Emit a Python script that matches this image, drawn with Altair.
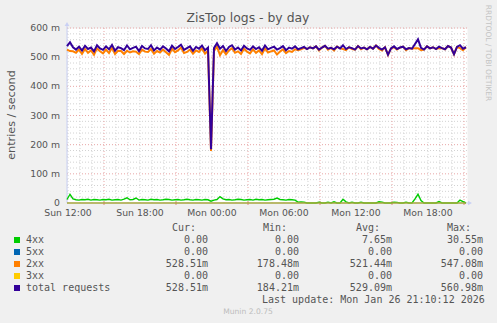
import altair as alt
import pandas as pd

# ---------------- texts ----------------
TITLE = "ZisTop logs - by day"
Y_TITLE = "entries / second"
SIDE_TEXT = "RRDTOOL / TOBI OETIKER"
FOOTER = "Munin 2.0.75"
LAST_UPDATE = "Last update: Mon Jan 26 21:10:12 2026"

# x axis: hours relative to Sun 12:00
X_TICK_HOURS = [0, 6, 12, 18, 24, 30]
X_TICK_LABELS = ["Sun 12:00", "Sun 18:00", "Mon 00:00", "Mon 06:00", "Mon 12:00", "Mon 18:00"]
Y_TICKS = [0, 100, 200, 300, 400, 500, 600]
Y_TICK_LABELS = ["0", "100 m", "200 m", "300 m", "400 m", "500 m", "600 m"]

# samples every 15 minutes, first one at Sun 11:55 (values in milli-entries/s)
START_H = -1 / 12
STEP_H = 0.25

TOTAL = [
    538, 551, 534, 526, 536, 523, 539, 528, 533, 520,
    541, 530, 525, 537, 527, 542, 522, 534, 531, 524,
    540, 527, 532, 536, 521, 538, 530, 528, 541, 523,
    533, 526, 537, 530, 520, 539, 528, 535, 543, 525,
    531, 537, 522, 535, 529, 540, 524, 533, 184, 531,
    548, 529, 538, 521, 535, 541, 526, 533, 523, 539,
    530, 525, 537, 528, 534, 522, 540, 527, 532, 536,
    526, 531, 538, 524, 533, 529, 537, 527, 531, 535,
    528, 534, 530, 537, 526, 533, 539, 529, 532, 527,
    536, 530, 541, 528, 534, 531, 526, 538, 530, 533,
    527, 535, 529, 540, 532, 526, 534, 508, 530, 537,
    528, 533, 536, 527, 531, 529, 545, 561, 532, 526,
    537, 530, 534, 528, 536, 531, 527, 538, 533, 510,
    535, 541, 529, 534,
]
S4XX = [
    12, 30, 14, 11, 10, 12, 11, 13, 10, 12,
    11, 10, 12, 11, 13, 10, 11, 12, 10, 13,
    18, 11, 12, 17, 10, 12, 11, 10, 13, 11,
    12, 10, 11, 13, 12, 10, 11, 12, 10, 11,
    13, 11, 10, 12, 11, 10, 12, 11, 6, 10,
    12, 22, 14, 11, 12, 10, 11, 13, 12, 10,
    11, 12, 10, 13, 11, 12, 10, 11, 12, 13,
    17, 12, 11, 10, 12, 11, 10, 3, 4, 3,
    0, 0, 0, 0, 3, 0, 0, 3, 0, 4,
    0, 0, 13, 4, 0, 3, 0, 0, 3, 0,
    0, 0, 0, 0, 4, 3, 0, 0, 0, 3,
    2, 0, 0, 3, 0, 0, 14, 30, 8, 0,
    0, 0, 0, 0, 5, 0, 0, 0, 0, 0,
    0, 10, 5, 0,
]
S2XX = [
    526, 521, 520, 515, 526, 511, 528, 515, 523, 508,
    530, 520, 513, 526, 514, 532, 511, 522, 521, 511,
    522, 516, 520, 519, 511, 526, 519, 518, 528, 512,
    521, 516, 526, 517, 508, 529, 517, 523, 533, 514,
    518, 526, 512, 523, 518, 530, 512, 522, 178, 521,
    536, 507, 524, 510, 523, 531, 515, 520, 511, 529,
    519, 513, 527, 515, 523, 510, 530, 516, 520, 523,
    509, 519, 527, 514, 521, 518, 527, 524, 527, 532,
    528, 534, 530, 537, 523, 533, 539, 526, 532, 523,
    536, 530, 528, 524, 534, 528, 526, 538, 527, 533,
    527, 535, 529, 540, 528, 523, 534, 508, 530, 534,
    526, 533, 536, 524, 531, 529, 531, 531, 524, 526,
    537, 530, 534, 528, 531, 531, 527, 538, 533, 510,
    535, 531, 524, 534,
]
S5XX = [0] * len(TOTAL)
S3XX = [0] * len(TOTAL)

# legend table
SERIES_NAMES = ["4xx", "5xx", "2xx", "3xx", "total requests"]
SERIES_COLORS = ["#00CC00", "#0066B3", "#FF8000", "#FFCC00", "#330099"]
CUR = ["0.00", "0.00", "528.51m", "0.00", "528.51m"]
MIN = ["0.00", "0.00", "178.48m", "0.00", "184.21m"]
AVG = ["7.65m", "0.00", "521.44m", "0.00", "529.09m"]
MAX = ["30.55m", "0.00", "547.08m", "0.00", "560.98m"]
HEADERS = ["Cur:", "Min:", "Avg:", "Max:"]

# ---------------- layout ----------------
W, H = 400, 175
PAD_L, PAD_T = 67, 28
TXT = "#555555"
AXIS_C = "#c9d0f4"
GRID_MINOR = "#d2d2d2"
GRID_MAJOR = "#e8a6a6"
SANS = "DejaVu Sans"
MONO = "DejaVu Sans Mono"

xs = alt.Scale(domain=[START_H, START_H + W / 12], nice=False, zero=False)
ys = alt.Scale(domain=[0, 600], nice=False)

hours = [START_H + STEP_H * i for i in range(len(TOTAL))]
df = pd.DataFrame({"h": hours, "s4": S4XX, "s5": S5XX, "s2": S2XX, "s3": S3XX, "tot": TOTAL})

y_minor = [v for v in range(0, 601, 20) if v % 100]
y_major = [v for v in Y_TICKS if v > 0]
x_major = [3, 9, 15, 21, 27, 33]
x_minor = [h for h in range(0, 34) if h not in x_major]

one = pd.DataFrame({"k": [0]})


def hrule(vals, color):
    return alt.Chart(pd.DataFrame({"v": vals})).mark_rule(
        color=color, strokeDash=[1, 2], strokeWidth=1
    ).encode(y=alt.Y("v:Q", scale=ys, axis=None))


def vrule(vals, color):
    return alt.Chart(pd.DataFrame({"v": vals})).mark_rule(
        color=color, strokeDash=[1, 2], strokeWidth=1
    ).encode(x=alt.X("v:Q", scale=xs, axis=None))


def line(field, color, w):
    return alt.Chart(df).mark_line(color=color, strokeWidth=w).encode(
        x=alt.X("h:Q", scale=xs, axis=None),
        y=alt.Y(field + ":Q", scale=ys, axis=None),
    )


def label(text, x_abs, y_abs, size, color=TXT, font=SANS, align="center", angle=0, baseline="middle"):
    kw = dict(text=text, font=font, fontSize=size, color=color, align=align, baseline=baseline)
    if angle:
        kw["angle"] = angle
    return alt.Chart(one).mark_text(**kw).encode(x=alt.value(x_abs - PAD_L), y=alt.value(y_abs - PAD_T))


# tick labels drawn through the scales
y_lab = alt.Chart(pd.DataFrame({"v": Y_TICKS, "t": Y_TICK_LABELS})).mark_text(
    align="right", baseline="middle", font=SANS, fontSize=9.3, color=TXT
).encode(y=alt.Y("v:Q", scale=ys, axis=None), x=alt.value(-7), text="t:N")
x_lab = alt.Chart(pd.DataFrame({"v": X_TICK_HOURS, "t": X_TICK_LABELS})).mark_text(
    align="center", baseline="middle", font=SANS, fontSize=9.3, color=TXT
).encode(x=alt.X("v:Q", scale=xs, axis=None), y=alt.value(H + 10), text="t:N")

# axis lines
y_axis_line = alt.Chart(one).mark_rule(color=AXIS_C, strokeWidth=1).encode(
    x=alt.value(0), y=alt.value(-3), y2=alt.value(H))
x_axis_line = alt.Chart(one).mark_rule(color=AXIS_C, strokeWidth=1).encode(
    x=alt.value(0), x2=alt.value(W + 2), y=alt.value(H))
x_major_ticks = alt.Chart(pd.DataFrame({"v": x_major})).mark_rule(color="#e08080", strokeWidth=1).encode(
    x=alt.X("v:Q", scale=xs, axis=None), y=alt.value(H - 2), y2=alt.value(H + 2))

layers = [
    hrule(y_minor, GRID_MINOR),
    vrule(x_minor, GRID_MINOR),
    hrule(y_major, GRID_MAJOR),
    vrule(x_major, GRID_MAJOR),
    y_axis_line,
    x_axis_line,
    x_major_ticks,
    line("s4", SERIES_COLORS[0], 1.4),
    line("s5", SERIES_COLORS[1], 1.2),
    line("s2", SERIES_COLORS[2], 2.0),
    line("s3", SERIES_COLORS[3], 1.2),
    line("tot", SERIES_COLORS[4], 2.0),
    y_lab,
    x_lab,
    alt.Chart(one).mark_point(shape="triangle-up", filled=True, size=22, color=AXIS_C, opacity=1).encode(
        x=alt.value(0), y=alt.value(-4)),
    alt.Chart(one).mark_point(shape="triangle-right", filled=True, size=22, color=AXIS_C, opacity=1).encode(
        x=alt.value(W + 3), y=alt.value(H)),
    label(TITLE, 248, 22.4, 12.4, baseline="alphabetic"),
    label(Y_TITLE, 11.5, 115, 11.2, angle=270),
    label(SIDE_TEXT, 488, 53, 7.5, color="#c4c4c4", angle=90),
    label(FOOTER, 248, 312, 7.6, color="#bdbdbd"),
    label(LAST_UPDATE, 262, 300, 10, font=MONO, align="left"),
]

# legend
ROW_Y = [240, 252, 264, 276, 288]
COL_RIGHT = [208, 299, 392, 483]


def pad(s):
    return s if s.endswith("m") else s + "\u00a0"


leg = pd.DataFrame({
    "name": SERIES_NAMES,
    "color": SERIES_COLORS,
    "cur": [pad(s) for s in CUR],
    "min": [pad(s) for s in MIN],
    "avg": [pad(s) for s in AVG],
    "max": [pad(s) for s in MAX],
    "ry": [y - PAD_T for y in ROW_Y],
})

layers.append(
    alt.Chart(leg).mark_square(size=36, filled=True, opacity=1).encode(
        x=alt.value(17 - PAD_L),
        y=alt.Y("ry:Q", scale=None, axis=None),
        color=alt.Color("color:N", scale=None, legend=None),
    )
)
layers.append(
    alt.Chart(leg).mark_text(align="left", baseline="middle", font=MONO, fontSize=10, color=TXT).encode(
        x=alt.value(26 - PAD_L), y=alt.Y("ry:Q", scale=None, axis=None), text="name:N")
)
for col, xr in zip(["cur", "min", "avg", "max"], COL_RIGHT):
    layers.append(
        alt.Chart(leg).mark_text(align="right", baseline="middle", font=MONO, fontSize=10, color=TXT).encode(
            x=alt.value(xr - PAD_L), y=alt.Y("ry:Q", scale=None, axis=None), text=col + ":N")
    )
for hd, xr in zip(HEADERS, COL_RIGHT):
    layers.append(label(hd, xr - 36, 228, 10, font=MONO, align="left"))

chart = alt.layer(*layers).properties(
    width=W, height=H,
    padding={"left": PAD_L, "top": PAD_T, "right": 497 - PAD_L - W, "bottom": 323 - PAD_T - H},
    autosize=alt.AutoSizeParams(type="none"),
).configure(background="#f0f0f0").configure_view(fill="white", stroke="transparent")

chart.save("out.html", embed_options={"renderer": "svg", "actions": False})
